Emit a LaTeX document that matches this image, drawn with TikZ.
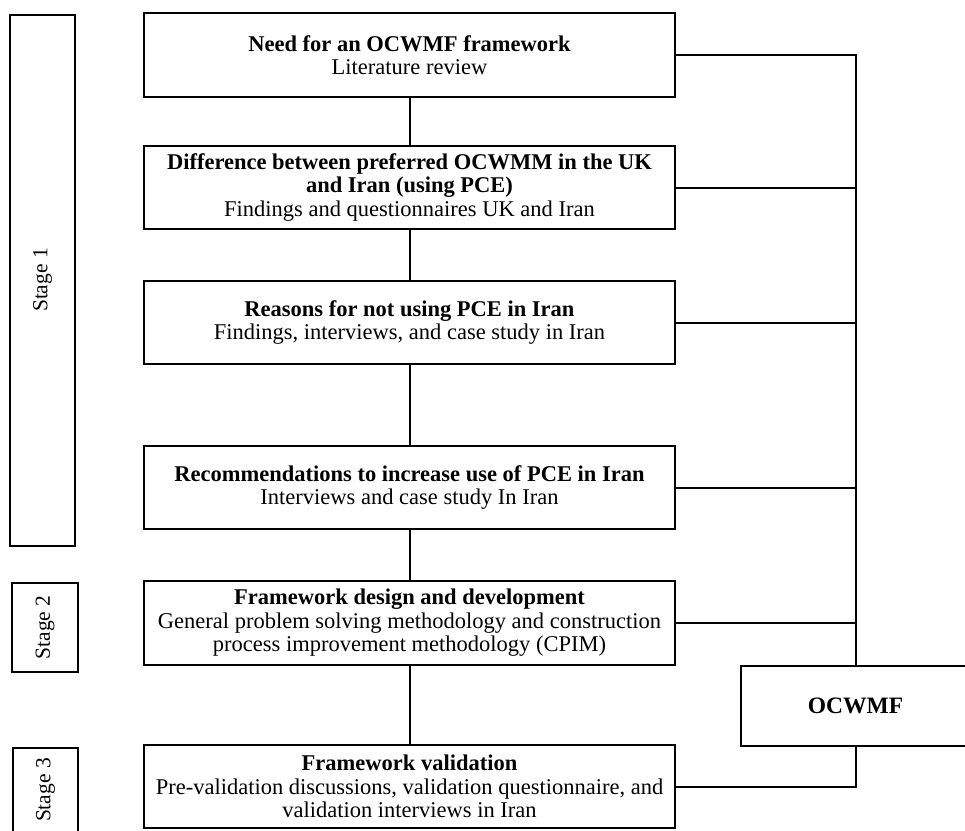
\documentclass[tikz,border=0pt]{standalone}
\usepackage{fontspec}
\setmainfont{Liberation Serif}
\begin{document}
\begin{tikzpicture}[x=1pt,y=-1pt,line width=2pt,
  box/.style={draw,line width=2pt,align=center,inner sep=0pt,
    minimum width=531pt,minimum height=83pt,
    font=\fontsize{22.5}{23.5}\selectfont},
  stagebox/.style={draw,line width=2pt,rotate=90,inner sep=0pt,
    font=\fontsize{21.5}{23}\selectfont},
  conn/.style={line width=2pt}]
\useasboundingbox (0,0) rectangle (965,830);
% stage boxes
\node[stagebox,minimum width=531pt,minimum height=65pt] (s1) at (42.5,280) {Stage 1};
\node[stagebox,minimum width=89pt,minimum height=66pt] (s2) at (45,627.5) {Stage 2};
\node[stagebox,minimum width=84pt,minimum height=65pt] (s3) at (45.5,790) {Stage 3};
% main boxes
\node[box,minimum height=84pt] (b1) at (409.5,55) {\textbf{Need for an OCWMF framework}\\Literature review};
\node[box] (b2) at (409.5,187.5) {\textbf{Difference between preferred OCWMM in the UK}\\\textbf{and Iran (using PCE)}\\Findings and questionnaires UK and Iran};
\node[box] (b3) at (409.5,322.5) {\textbf{Reasons for not using PCE in Iran}\\Findings, interviews, and case study in Iran};
\node[box] (b4) at (409.5,487.5) {\textbf{Recommendations to increase use of PCE in Iran}\\Interviews and case study In Iran};
\node[box,minimum height=84pt] (b5) at (409.5,623) {\textbf{Framework design and development}\\General problem solving methodology and construction\\process improvement methodology (CPIM)};
\node[box] (b6) at (409.5,786.5) {\textbf{Framework validation}\\Pre-validation discussions, validation questionnaire, and\\validation interviews in Iran};
\node[box,minimum width=229pt,minimum height=80pt,font=\fontsize{23.5}{25}\selectfont] (oc) at (855.5,706) {\textbf{OCWMF}};
% vertical chain
\draw[conn] (b1.south) -- (b2.north);
\draw[conn] (b2.south) -- (b3.north);
\draw[conn] (b3.south) -- (b4.north);
\draw[conn] (b4.south) -- (b5.north);
\draw[conn] (b5.south) -- (b6.north);
% right bus
\draw[conn] (b1.east) -- (b1.east -| oc.north) -- (oc.north);
\draw[conn] (b2.east) -- (b2.east -| oc.north);
\draw[conn] (b3.east) -- (b3.east -| oc.north);
\draw[conn] (b4.east) -- (b4.east -| oc.north);
\draw[conn] (b5.east) -- (b5.east -| oc.north);
\draw[conn] (oc.south) |- (b6.east);
\end{tikzpicture}
\end{document}
